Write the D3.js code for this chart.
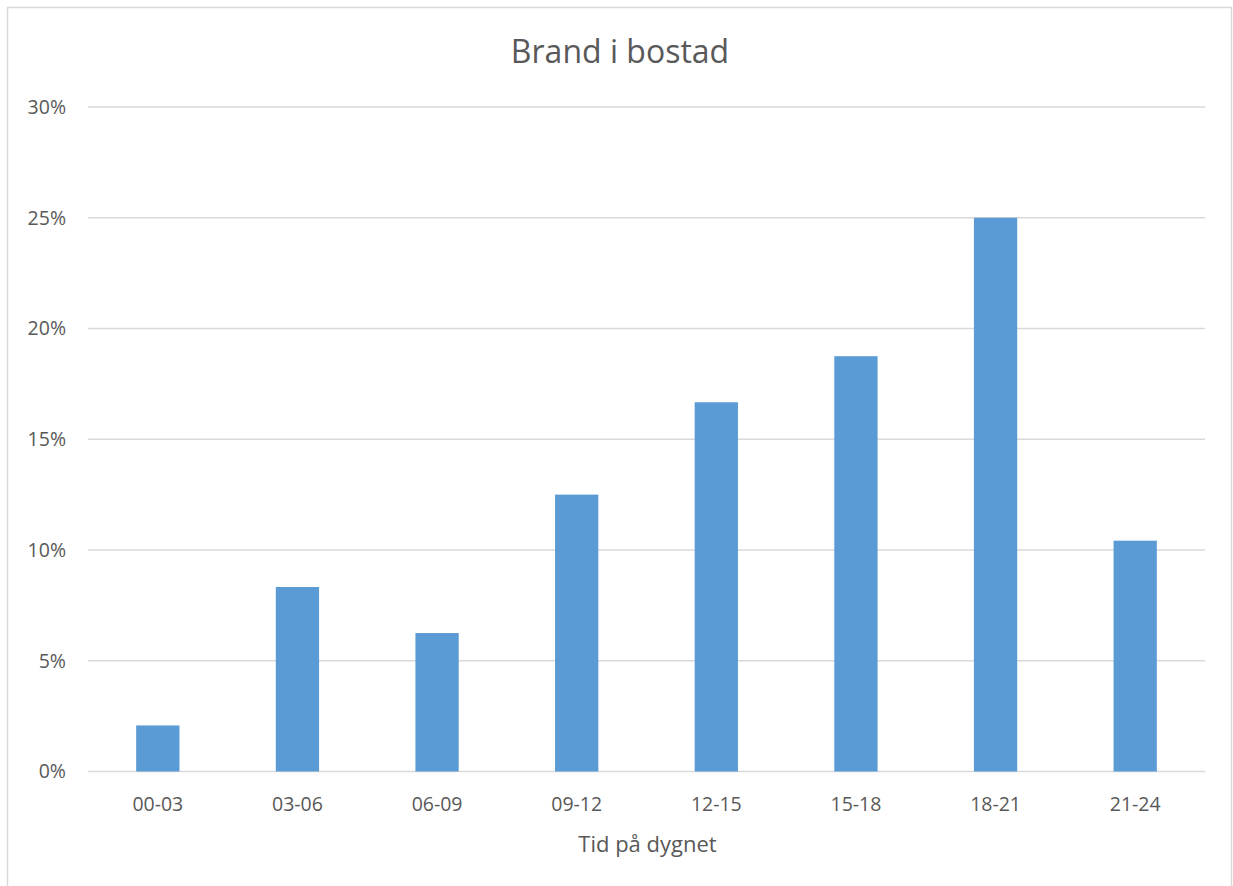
<!DOCTYPE html>
<html><head><meta charset="utf-8">
<script src="https://cdn.jsdelivr.net/npm/d3@7"></script>
<style>body{margin:0;background:#fff;} text{font-family:"Open Sans","Noto Sans",sans-serif;fill:#595959;}</style>
</head><body>
<svg id="c" width="1233" height="886"></svg>
<script>
const categories = ["00-03","03-06","06-09","09-12","12-15","15-18","18-21","21-24"];
const values = [0.0208,0.0833,0.0625,0.125,0.1667,0.1875,0.25,0.1042];
const yTicks = [0,0.05,0.10,0.15,0.20,0.25,0.30];
const title = "Brand i bostad";
const xTitle = "Tid på dygnet";

const svg = d3.select("#c");
svg.append("rect").attr("x",7.5).attr("y",7.5).attr("width",1224).attr("height",890)
  .attr("fill","#fff").attr("stroke","#d9d9d9").attr("stroke-width",1.5);

const L=88, R=1205, T=107, B=771.5;
const x = d3.scaleBand().domain(categories).range([L,R]).paddingInner(0.69).paddingOuter(0.345);
const y = d3.scaleLinear().domain([0,0.30]).range([B,T]);

const g = svg.append("g");
g.selectAll("line.grid").data(yTicks).join("line")
  .attr("x1",L).attr("x2",R).attr("y1",d=>y(d)).attr("y2",d=>y(d))
  .attr("stroke","#d9d9d9").attr("stroke-width",1.5);

g.selectAll("rect.bar").data(values).join("rect")
  .attr("x",(d,i)=>x(categories[i])).attr("width",x.bandwidth())
  .attr("y",d=>y(d)).attr("height",d=>B-y(d)).attr("fill","#5b9bd5");

const font = "'Open Sans','Noto Sans',sans-serif";
const yAxis = d3.axisLeft(y).tickValues(yTicks).tickFormat(d3.format(".0%")).tickSize(0).tickPadding(0);
const ya = svg.append("g").attr("transform",`translate(66,0)`).call(yAxis);
ya.select(".domain").remove();
ya.selectAll("text").attr("font-size",19.5).attr("fill","#595959").style("font-family",font);

const xAxis = d3.axisBottom(x).tickSize(0).tickPadding(0);
const xa = svg.append("g").attr("transform",`translate(0,${B})`).call(xAxis);
xa.select(".domain").remove();
xa.selectAll("text").attr("dy",null).attr("y",39.5).attr("font-size",19.5).attr("fill","#595959").style("font-family",font);

svg.append("text").attr("x",(L+R)/2+1).attr("y",852).attr("text-anchor","middle").attr("font-size",22).text(xTitle);
svg.append("text").attr("x",620).attr("y",63).attr("text-anchor","middle").attr("font-size",32).text(title);
</script>
</body></html>
